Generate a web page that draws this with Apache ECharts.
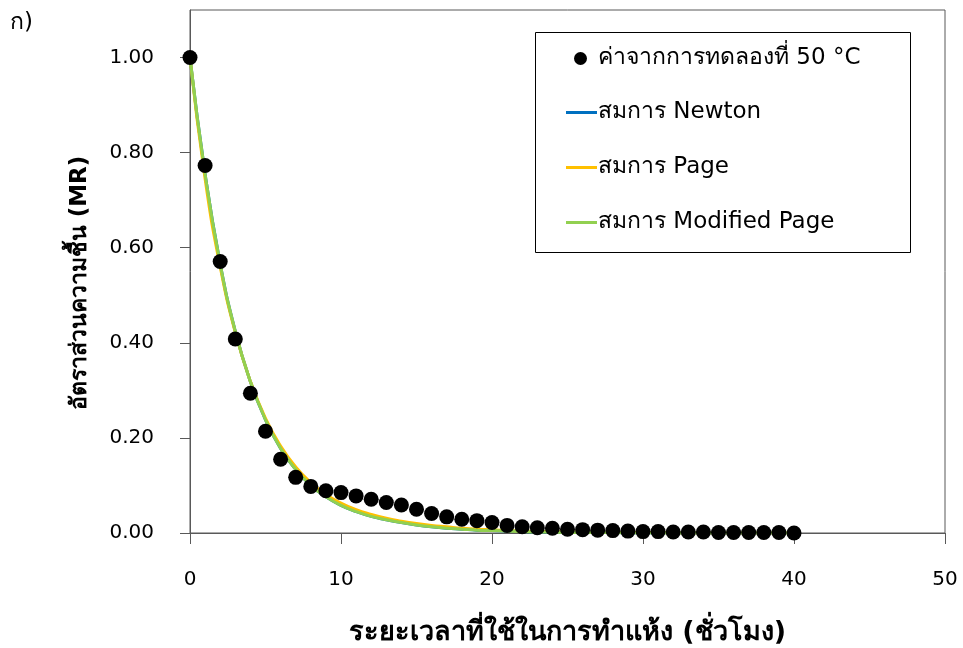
<!DOCTYPE html>
<html>
<head>
<meta charset="utf-8">
<script src="https://cdn.jsdelivr.net/npm/echarts@6/dist/echarts.min.js"></script>
<style>
  html, body { margin: 0; padding: 0; background: #fff; }
  #chart { width: 963px; height: 648px; }
</style>
</head>
<body>
<div id="chart"></div>
<script>
// Drying time (hours)
const hours = [0,1,2,3,4,5,6,7,8,9,10,11,12,13,14,15,16,17,18,19,20,
               21,22,23,24,25,26,27,28,29,30,31,32,33,34,35,36,37,38,39,40];

// Measured moisture ratio at 50 °C
const mrMeasured = [1.000,0.773,0.571,0.408,0.294,0.214,0.155,0.117,0.098,0.089,0.085,
                    0.078,0.071,0.064,0.059,0.050,0.041,0.034,0.029,0.026,0.022,
                    0.016,0.013,0.011,0.010,0.008,0.007,0.006,0.005,0.004,0.003,
                    0.003,0.002,0.002,0.002,0.001,0.001,0.001,0.001,0.001,0.000];

// Model predictions at the same times
const mrNewton = [1.000,0.755,0.566,0.424,0.318,0.238,0.178,0.134,0.100,0.076,0.058,
                  0.045,0.035,0.028,0.022,0.017,0.013,0.010,0.008,0.006,0.005,
                  0.004,0.003,0.002,0.002,0.001,0.001,0.001,0.001,0.000,0.000,
                  0.000,0.000,0.000,0.000,0.000,0.000,0.000,0.000,0.000,0.000];
const mrPage = [1.000,0.745,0.560,0.422,0.319,0.241,0.183,0.139,0.106,0.081,0.063,
                0.049,0.039,0.031,0.025,0.020,0.016,0.013,0.010,0.008,0.007,
                0.005,0.004,0.003,0.003,0.002,0.002,0.001,0.001,0.001,0.001,
                0.001,0.000,0.000,0.000,0.000,0.000,0.000,0.000,0.000,0.000];
const mrModPage = [1.000,0.755,0.566,0.424,0.318,0.238,0.178,0.134,0.100,0.076,0.058,
                   0.045,0.035,0.028,0.022,0.017,0.013,0.010,0.008,0.006,0.005,
                   0.004,0.003,0.002,0.002,0.001,0.001,0.001,0.001,0.000,0.000,
                   0.000,0.000,0.000,0.000,0.000,0.000,0.000,0.000,0.000,0.000];

// Axis tick values
const xTicks = [0, 10, 20, 30, 40, 50];
const yTicks = [0, 0.2, 0.4, 0.6, 0.8, 1.0];

const seriesNames = ['ค่าจากการทดลองที่ 50 °C', 'สมการ Newton', 'สมการ Page', 'สมการ Modified Page'];
const xAxisTitle = 'ระยะเวลาที่ใช้ในการทำแห้ง (ชั่วโมง)';
const yAxisTitle = 'อัตราส่วนความชื้น (MR)';
const panelLabel = 'ก)';

const FONT = "Tahoma, 'DejaVu Sans', 'Noto Sans', sans-serif";
const AXIS_COLOR = '#595959';

const pairs = (ys) => hours.map((h, i) => [h, ys[i]]);

const lineSeries = (name, ys, color) => ({
  name, type: 'line', data: pairs(ys),
  smooth: true, symbol: 'none',
  lineStyle: { color, width: 3 }, itemStyle: { color },
  z: 2
});

const chart = echarts.init(document.getElementById('chart'), null, { renderer: 'canvas' });

chart.setOption({
  animation: false,
  backgroundColor: '#fff',
  textStyle: { fontFamily: FONT },
  grid: {
    left: 190, right: 18, top: 10, bottom: 115,
    outerBoundsMode: 'none', containLabel: false,
    show: true, borderColor: AXIS_COLOR, borderWidth: 1
  },
  xAxis: {
    type: 'value', min: xTicks[0], max: xTicks[xTicks.length - 1], interval: 10,
    axisLine: { lineStyle: { color: AXIS_COLOR, width: 1 } },
    axisTick: { show: true, inside: false, length: 11, lineStyle: { color: AXIS_COLOR } },
    axisLabel: { color: '#000', fontSize: 20, fontFamily: FONT, margin: 37 },
    splitLine: { show: false },
    name: xAxisTitle, nameLocation: 'middle', nameGap: 86,
    nameTextStyle: { color: '#000', fontSize: 27, fontWeight: 'bold', fontFamily: FONT }
  },
  yAxis: {
    type: 'value', min: 0, max: 1.1, interval: 0.2,
    axisLine: { show: true, lineStyle: { color: AXIS_COLOR, width: 1 } },
    axisTick: {
      show: true, inside: false, length: 10, lineStyle: { color: AXIS_COLOR },
      customValues: yTicks
    },
    axisLabel: {
      color: '#000', fontSize: 20, fontFamily: FONT, margin: 36,
      customValues: yTicks,
      formatter: (v) => v.toFixed(2)
    },
    splitLine: { show: false }
  },
  legend: [
    {
      data: [seriesNames[0]],
      orient: 'vertical', left: 569, top: 42,
      icon: 'circle', itemWidth: 13, itemHeight: 13,
      textStyle: { color: '#000', fontSize: 23, fontFamily: FONT, padding: [0, 0, 0, 6] }
    },
    {
      data: seriesNames.slice(1),
      orient: 'vertical', left: 561, top: 96, itemGap: 32,
      icon: 'rect', itemWidth: 31, itemHeight: 3,
      textStyle: { color: '#000', fontSize: 23, fontFamily: FONT, padding: [0, 0, 0, -4] }
    }
  ],
  graphic: [
    {
      type: 'rect', left: 533, top: 30, z: 10, silent: true,
      shape: { width: 375, height: 220 },
      style: { fill: 'none', stroke: '#000', lineWidth: 1 }
    },
    {
      type: 'text', left: 10, top: 12,
      style: { text: panelLabel, fontSize: 23, fontFamily: FONT, fill: '#000' }
    },
    {
      type: 'text', x: 80, y: 283, rotation: Math.PI / 2,
      style: {
        text: yAxisTitle, fontSize: 23, fontWeight: 'bold', fontFamily: FONT, fill: '#000',
        align: 'center', verticalAlign: 'middle'
      }
    }
  ],
  series: [
    lineSeries(seriesNames[1], mrNewton, '#0070C0'),
    lineSeries(seriesNames[2], mrPage, '#FFC000'),
    lineSeries(seriesNames[3], mrModPage, '#92D050'),
    {
      name: seriesNames[0], type: 'scatter', data: pairs(mrMeasured),
      symbol: 'circle', symbolSize: 15,
      itemStyle: { color: '#000', opacity: 1 }, z: 5
    }
  ]
});
</script>
</body>
</html>
